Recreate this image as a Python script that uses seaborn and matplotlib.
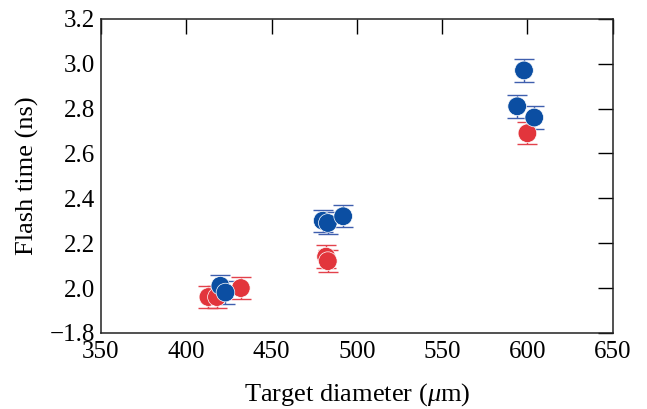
import matplotlib
matplotlib.use("Agg")
import matplotlib.pyplot as plt
import seaborn as sns
import pandas as pd

# data
blue_x = [420, 423, 480, 483, 492, 594, 598, 604]
blue_y = [2.01, 1.98, 2.30, 2.29, 2.32, 2.81, 2.97, 2.76]
blue_err = [0.05, 0.05, 0.05, 0.05, 0.05, 0.05, 0.05, 0.05]
red_x = [413, 418, 432, 482, 483, 600]
red_y = [1.96, 1.96, 2.00, 2.14, 2.12, 2.69]
red_err = [0.05, 0.05, 0.05, 0.05, 0.05, 0.05]

x_ticks = [350, 400, 450, 500, 550, 600, 650]
y_ticks = [1.8, 2.0, 2.2, 2.4, 2.6, 2.8, 3.0, 3.2]
y_ticklabels = ["\u22121.8", "2.0", "2.2", "2.4", "2.6", "2.8", "3.0", "3.2"]

sns.set_theme(style="white")
plt.rcParams['font.family'] = ['Liberation Serif', 'DejaVu Serif']
plt.rcParams['mathtext.fontset'] = 'custom'
plt.rcParams['mathtext.it'] = 'Liberation Serif:italic'
plt.rcParams['mathtext.rm'] = 'Liberation Serif'

blue_c = "#0b4ea2"
red_c = "#e2353c"
blue_e = "#3f5fae"
red_e = "#e3424c"

df = pd.DataFrame({
    "x": red_x + blue_x,
    "y": red_y + blue_y,
    "err": red_err + blue_err,
    "grp": ["red"] * len(red_x) + ["blue"] * len(blue_x),
})

fig = plt.figure(figsize=(6.47, 4.09), dpi=100)
ax = fig.add_axes([0.156, 0.186, 0.791, 0.768])

ax.errorbar(red_x, red_y, yerr=red_err, fmt="none", ecolor=red_e, elinewidth=1.0,
            capsize=7.5, capthick=1.0, zorder=2)
ax.errorbar(blue_x, blue_y, yerr=blue_err, fmt="none", ecolor=blue_e, elinewidth=1.0,
            capsize=7.5, capthick=1.0, zorder=2)
sns.scatterplot(data=df, x="x", y="y", hue="grp", palette={"red": red_c, "blue": blue_c},
                s=180, edgecolor="white", linewidth=0.5, legend=False, ax=ax, zorder=3)

ax.set_xlim(350, 650)
ax.set_ylim(1.8, 3.2)
ax.set_xticks(x_ticks)
ax.set_yticks(y_ticks)
ax.set_yticklabels(y_ticklabels)
ax.tick_params(direction="in", length=11, width=1, top=True, right=True,
               labelsize=18, colors="black", pad=4)
ax.tick_params(axis="x", pad=6)
for s in ax.spines.values():
    s.set_visible(True)
    s.set_color("#222222")
    s.set_linewidth(1.1)

ax.set_xlabel(r"Target diameter ($\mu$m)", fontsize=19, labelpad=13, color="black")
ax.set_ylabel("Flash time (ns)", fontsize=19, labelpad=8, color="black")

fig.savefig("out.png", dpi=100)
